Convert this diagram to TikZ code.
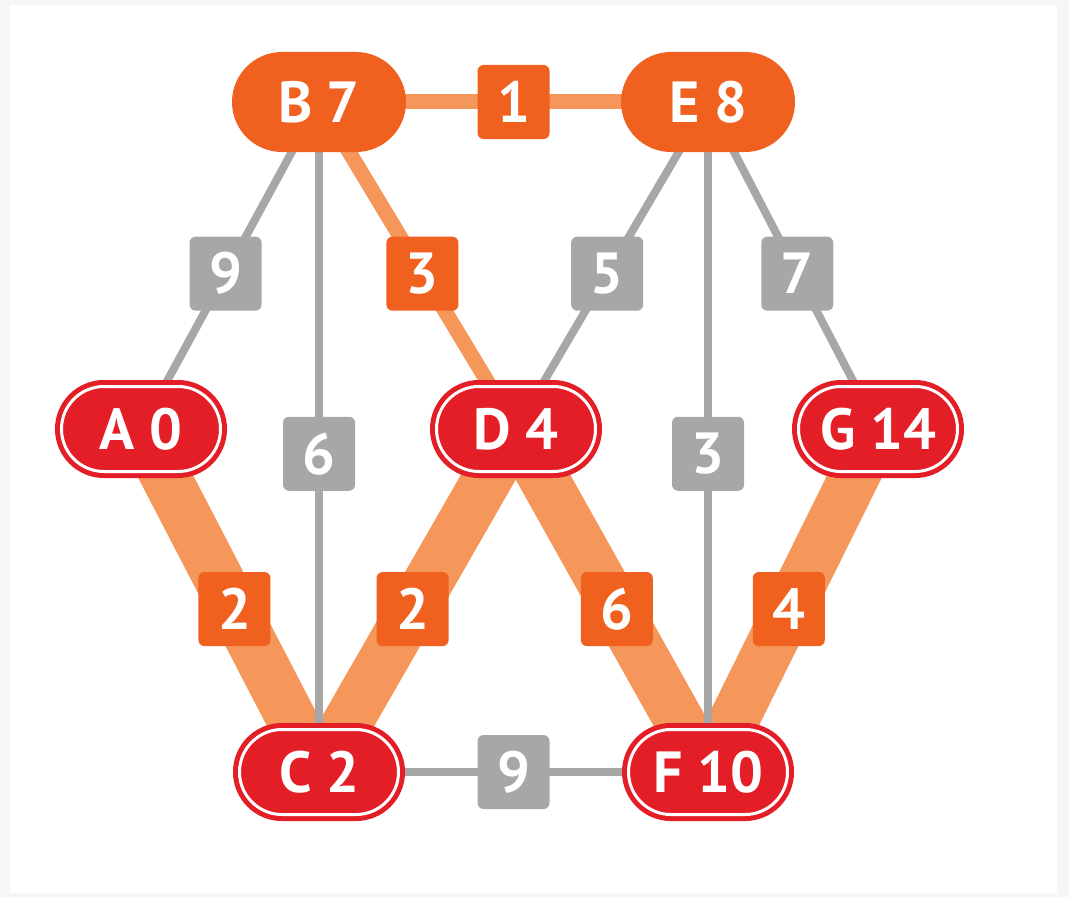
\documentclass[tikz,border=0pt]{standalone}
\usepackage{fontspec}
\setmainfont{PT Sans}
\usetikzlibrary{shapes.misc}
\definecolor{bgrey}{HTML}{F5F6F8}
\definecolor{korange}{HTML}{F0601E}
\definecolor{lorange}{HTML}{F5975A}
\definecolor{kred}{HTML}{E41E26}
\definecolor{kgrey}{HTML}{A7A7A7}
\pgfdeclarelayer{back}
\pgfdeclarelayer{edges}
\pgfsetlayers{back,edges,main}

\begin{document}
\begin{tikzpicture}[x=1cm,y=1cm,
  txt/.style={text=white,font=\fontsize{16.5}{16.5}\selectfont\bfseries},
  visited/.style={txt,rounded rectangle,fill=korange,minimum width=1.74cm,minimum height=1cm,inner sep=0pt},
  done/.style={txt,rounded rectangle,fill=kred,draw=kred,line width=0.5mm,double=white,double distance=0.3mm,minimum width=1.59cm,minimum height=0.85cm,inner sep=0pt},
  wbox/.style={txt,rounded corners=0.6mm,minimum width=0.72cm,minimum height=0.74cm,inner sep=0pt,pos=.525},
  grey wt/.style={wbox,fill=kgrey},
  path wt/.style={wbox,fill=korange},
  grey edge/.style={draw=kgrey,line width=0.8mm},
  thin edge/.style={draw=lorange,line width=1.5mm},
  thick edge/.style={draw=lorange,line width=5mm}]
\begin{pgfonlayer}{back}
\fill[bgrey] (0,0) rectangle (10.69,8.97);
\fill[white] (0.10,0.04) rectangle (10.57,8.92);
\end{pgfonlayer}

\node[visited] (B) at (3.19,7.95) {B 7};
\node[visited] (E) at (7.08,7.95) {E 8};
\node[done] (A) at (1.41,4.68) {A 0};
\node[done] (D) at (5.16,4.68) {D 4};
\node[done] (G) at (8.78,4.68) {G 14};
\node[done] (C) at (3.19,1.25) {C 2};
\node[done] (F) at (7.08,1.25) {F 10};

\begin{pgfonlayer}{edges}
\draw[thick edge] (A.center) -- node[path wt] {2} (C.center);
\draw[thick edge] (D.center) -- node[path wt] {2} (C.center);
\draw[thick edge] (D.center) -- node[path wt] {6} (F.center);
\draw[thick edge] (G.center) -- node[path wt] {4} (F.center);

\draw[grey edge] (B.center) -- node[grey wt] {9} (A.center);
\draw[grey edge] (B.center) -- node[grey wt] {6} (C.center);
\draw[grey edge] (E.center) -- node[grey wt] {5} (D.center);
\draw[grey edge] (E.center) -- node[grey wt] {3} (F.center);
\draw[grey edge] (E.center) -- node[grey wt] {7} (G.center);
\draw[grey edge] (C.center) -- node[grey wt,midway] {9} (F.center);

\draw[thin edge] (B.center) -- node[path wt,midway] {1} (E.center);
\draw[thin edge] (B.center) -- node[path wt] {3} (D.center);
\end{pgfonlayer}
\end{tikzpicture}
\end{document}
